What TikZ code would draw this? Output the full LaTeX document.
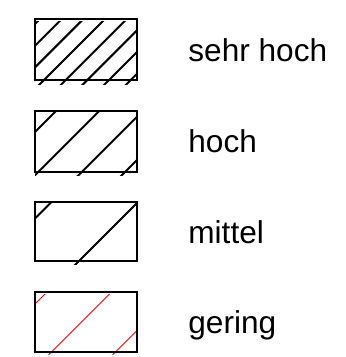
\documentclass[tikz,border=0pt]{standalone}
\usepackage{fontspec}
\setmainfont{Liberation Sans}
\begin{document}
\begin{tikzpicture}[x=0.5pt,y=-0.5pt,
  legendbox/.style={draw=black,line width=0.6pt},
  hatchline/.style={line width=1pt},
  legendtext/.style={anchor=base west,inner sep=0pt,font=\fontsize{15.8pt}{19pt}\selectfont}]
  \useasboundingbox (0,0) rectangle (345,357);

  % sehr hoch: dense hatching
  \begin{scope}
    \clip (35,22) rectangle (137,85);
    \foreach \c in {59,80.67,...,212}
      \draw[hatchline] (\c-90,90) -- (\c-15,15);
  \end{scope}
  \draw[legendbox] (35,19) rectangle (137,80);
  \node[legendtext] (sehrhoch) at (188,61.7) {sehr hoch};

  % hoch
  \begin{scope}
    \clip (35,113) rectangle (137,176);
    \foreach \c in {167,210.3,253.7,297}
      \draw[hatchline] (\c-180,180) -- (\c-105,105);
  \end{scope}
  \draw[legendbox] (35,111) rectangle (137,172);
  \node[legendtext] (hoch) at (188,152.5) {hoch};

  % mittel
  \begin{scope}
    \clip (35,203) rectangle (137,264);
    \foreach \c in {253.5,340}
      \draw[hatchline] (\c-270,270) -- (\c-195,195);
  \end{scope}
  \draw[legendbox] (35,202) rectangle (137,261);
  \node[legendtext] (mittel) at (188,243) {mittel};

  % gering: thin red hatching
  \begin{scope}
    \clip (35,294) rectangle (137,354);
    \foreach \c in {339,403.5,467.5}
      \draw[red,line width=0.5pt] (\c-360,360) -- (\c-285,285);
  \end{scope}
  \draw[legendbox] (35,292) rectangle (137,352);
  \node[legendtext] (gering) at (188,333.5) {gering};
\end{tikzpicture}
\end{document}
